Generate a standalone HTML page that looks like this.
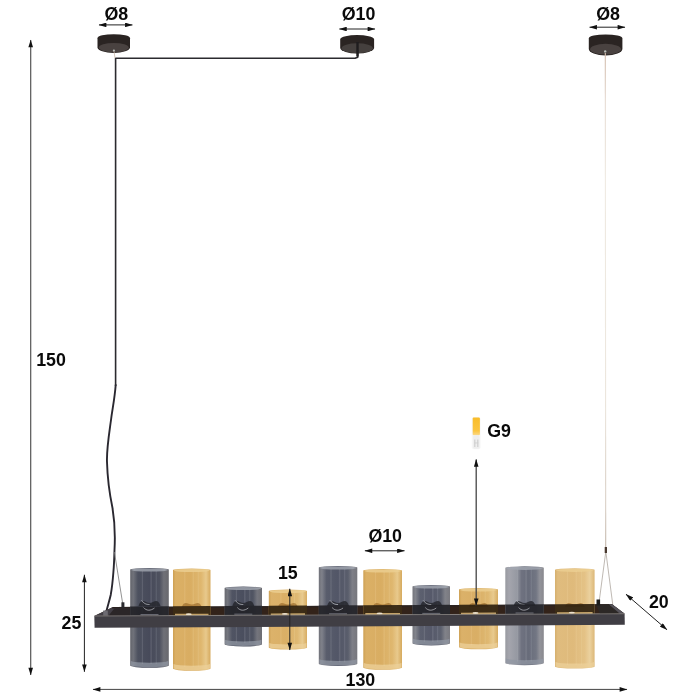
<!DOCTYPE html>
<html><head><meta charset="utf-8"><title>Lamp dimensions</title>
<style>
html,body{margin:0;padding:0;background:#fff;}
svg{display:block;will-change:transform;opacity:0.999;}
text{font-family:"Liberation Sans",Arial,Helvetica,sans-serif;font-weight:700;font-size:17.8px;fill:#0a0a0a;}
</style></head><body>
<svg width="700" height="700" viewBox="0 0 700 700">
<defs>
<linearGradient id="gs" x1="0" x2="1" y1="0" y2="0">
 <stop offset="0" stop-color="#6f7077"/><stop offset="0.08" stop-color="#7d7f88"/><stop offset="0.2" stop-color="#565a6a"/><stop offset="0.5" stop-color="#4f5364"/><stop offset="0.76" stop-color="#575b6a"/><stop offset="0.87" stop-color="#7c7d85"/><stop offset="1" stop-color="#74747a"/>
</linearGradient>
<linearGradient id="ga" x1="0" x2="1" y1="0" y2="0">
 <stop offset="0" stop-color="#cda052"/><stop offset="0.07" stop-color="#dbb066"/><stop offset="0.45" stop-color="#d9ad62"/><stop offset="0.75" stop-color="#dfb76f"/><stop offset="0.88" stop-color="#e8c98c"/><stop offset="1" stop-color="#d6aa5e"/>
</linearGradient>
<linearGradient id="g0" x1="0" x2="1" y1="0" y2="0"><stop offset="0" stop-color="#63646b"/><stop offset="0.08" stop-color="#70727a"/><stop offset="0.2" stop-color="#4d515f"/><stop offset="0.5" stop-color="#474a5a"/><stop offset="0.76" stop-color="#4e515f"/><stop offset="0.87" stop-color="#6f7077"/><stop offset="1" stop-color="#68686d"/></linearGradient>
<linearGradient id="g1" x1="0" x2="1" y1="0" y2="0"><stop offset="0" stop-color="#cda052"/><stop offset="0.07" stop-color="#dbb066"/><stop offset="0.45" stop-color="#d9ad62"/><stop offset="0.75" stop-color="#dfb76f"/><stop offset="0.88" stop-color="#e8c98c"/><stop offset="1" stop-color="#d6aa5e"/></linearGradient>
<linearGradient id="g2" x1="0" x2="1" y1="0" y2="0"><stop offset="0" stop-color="#68696f"/><stop offset="0.08" stop-color="#75777f"/><stop offset="0.2" stop-color="#505463"/><stop offset="0.5" stop-color="#4a4e5e"/><stop offset="0.76" stop-color="#515563"/><stop offset="0.87" stop-color="#74757d"/><stop offset="1" stop-color="#6d6d72"/></linearGradient>
<linearGradient id="g3" x1="0" x2="1" y1="0" y2="0"><stop offset="0" stop-color="#cea257"/><stop offset="0.07" stop-color="#dcb26a"/><stop offset="0.45" stop-color="#daaf66"/><stop offset="0.75" stop-color="#dfb973"/><stop offset="0.88" stop-color="#e8ca8f"/><stop offset="1" stop-color="#d7ac62"/></linearGradient>
<linearGradient id="g4" x1="0" x2="1" y1="0" y2="0"><stop offset="0" stop-color="#717279"/><stop offset="0.08" stop-color="#7f818a"/><stop offset="0.2" stop-color="#595d6c"/><stop offset="0.5" stop-color="#525667"/><stop offset="0.76" stop-color="#5a5e6c"/><stop offset="0.87" stop-color="#7e7f87"/><stop offset="1" stop-color="#76767c"/></linearGradient>
<linearGradient id="g5" x1="0" x2="1" y1="0" y2="0"><stop offset="0" stop-color="#cda052"/><stop offset="0.07" stop-color="#dbb066"/><stop offset="0.45" stop-color="#d9ad62"/><stop offset="0.75" stop-color="#dfb76f"/><stop offset="0.88" stop-color="#e8c98c"/><stop offset="1" stop-color="#d6aa5e"/></linearGradient>
<linearGradient id="g6" x1="0" x2="1" y1="0" y2="0"><stop offset="0" stop-color="#74757c"/><stop offset="0.08" stop-color="#82848c"/><stop offset="0.2" stop-color="#5c606f"/><stop offset="0.5" stop-color="#56596a"/><stop offset="0.76" stop-color="#5d616f"/><stop offset="0.87" stop-color="#818289"/><stop offset="1" stop-color="#79797f"/></linearGradient>
<linearGradient id="g7" x1="0" x2="1" y1="0" y2="0"><stop offset="0" stop-color="#cea155"/><stop offset="0.07" stop-color="#dbb169"/><stop offset="0.45" stop-color="#d9ae65"/><stop offset="0.75" stop-color="#dfb871"/><stop offset="0.88" stop-color="#e8ca8e"/><stop offset="1" stop-color="#d6ab61"/></linearGradient>
<linearGradient id="g8" x1="0" x2="1" y1="0" y2="0"><stop offset="0" stop-color="#989aa0"/><stop offset="0.1" stop-color="#a4a5ad"/><stop offset="0.3" stop-color="#9699a2"/><stop offset="0.42" stop-color="#6f7280"/><stop offset="0.6" stop-color="#686c7a"/><stop offset="0.8" stop-color="#727683"/><stop offset="0.9" stop-color="#92939a"/><stop offset="1" stop-color="#89898e"/></linearGradient>
<linearGradient id="g9" x1="0" x2="1" y1="0" y2="0"><stop offset="0" stop-color="#d5af6d"/><stop offset="0.07" stop-color="#e0bc7e"/><stop offset="0.45" stop-color="#dfba7b"/><stop offset="0.75" stop-color="#e4c286"/><stop offset="0.88" stop-color="#ebd19e"/><stop offset="1" stop-color="#dcb777"/></linearGradient>
<marker id="ah" viewBox="0 0 10 6" refX="9.6" refY="3" markerWidth="8.6" markerHeight="4.6" orient="auto-start-reverse" markerUnits="userSpaceOnUse"><path d="M0,0 L10,3 L0,6 Z" fill="#111"/></marker>
</defs>
<rect width="700" height="700" fill="#fff"/>

<!-- canopies -->
<g>
 <path d="M97.5,38.2 A16.25,4 0 0 1 130,38.2 L130,47.3 A16.25,5.7 0 0 1 97.5,47.3 Z" fill="#2a2422"/>
 <ellipse cx="113.75" cy="47.6" rx="15" ry="4.7" fill="#494240"/>
 <circle cx="113.9" cy="50.6" r="1.1" fill="#b9bdb8"/>

 <path d="M340.2,39 A17,4.2 0 0 1 374.1,39 L374.1,48 A17,6 0 0 1 340.2,48 Z" fill="#2a2422"/>
 <ellipse cx="357.2" cy="48.2" rx="15.6" ry="5" fill="#45403e"/>

 <path d="M588.8,38.4 A16.8,4 0 0 1 622.4,38.4 L622.4,49 A16.8,6.5 0 0 1 588.8,49 Z" fill="#2a2422"/>
 <ellipse cx="605.6" cy="49.2" rx="15.5" ry="5.4" fill="#494240"/>
 <circle cx="605.2" cy="51.4" r="1.2" fill="#b9bdb8"/>
</g>

<!-- cable -->
<path d="M357.7,50 L357.7,57.2 L355,58.3 L115.6,58.3 L115.6,386" fill="none" stroke="#2b2a2e" stroke-width="1.6" stroke-linejoin="round"/>
<path d="M115.7,385 C114.5,400 112.5,408 111,420 C108.5,438 106.5,450 107,462 C107.5,480 110,496 112.5,508 C114.5,520 115.3,535 114.5,550 C114.2,560 114,566 113.4,572 C112.8,580 112,588 110.7,595 C109.6,600 108,605 106.6,610.5" fill="none" stroke="#2a2830" stroke-width="1.9" stroke-linecap="round"/>
<path d="M357.5,42 L357.5,56.5" stroke="#1f1d1f" stroke-width="2.4" fill="none"/>
<path d="M114,51.5 L115,58" stroke="#c9b8aa" stroke-width="0.8" fill="none"/>
<path d="M114.4,552 L122.6,603" stroke="#777" stroke-width="0.8" fill="none"/>

<!-- right wire -->
<linearGradient id="gw" gradientUnits="userSpaceOnUse" x1="0" y1="53" x2="0" y2="547"><stop offset="0" stop-color="#d2bcac"/><stop offset="0.1" stop-color="#e6dbd2"/><stop offset="0.25" stop-color="#efeae2"/><stop offset="0.7" stop-color="#ece6dd"/><stop offset="0.92" stop-color="#d8cec4"/><stop offset="1" stop-color="#c4b8ac"/></linearGradient>
<path d="M605.3,53 L605.7,547" stroke="url(#gw)" stroke-width="1.1" fill="none"/>
<rect x="604.7" y="547" width="2.3" height="6" fill="#4a3a30"/>
<path d="M605.6,553 L599.3,600.5 M606,553 L613.6,611" stroke="#aaa29a" stroke-width="0.75" fill="none"/>

<!-- frame back / top -->
<polygon points="94.3,616 113,607 612,604.3 624.6,613.8" fill="#33231a"/>
<polygon points="94.3,616 113,607 131,606.9 131,615.8" fill="#433f46"/>
<polygon points="113,607 612,604.3 612.5,605.6 112,608.4" fill="#2a2220"/>
<polygon points="114.5,608.2 131,608.1 131,615.7 108.5,615.8" fill="#2b2628"/>
<polygon points="596,604.4 612,604.3 624.6,613.8 600,613.9" fill="#2c2826"/>
<polygon points="608.8,604.3 612,604.3 624.6,613.8 620.2,613.9" fill="#56535a"/>
<rect x="596.5" y="599.5" width="3.6" height="6" fill="#1c1c1c"/>
<rect x="121.4" y="602.3" width="3" height="5.5" fill="#2a2a2e"/>
<rect x="103.2" y="610.5" width="4.6" height="5" fill="#6d6b72"/>

<!-- glasses -->
<path d="M130.2,569.6 A19.30000000000001,1.6 0 0 1 168.8,569.6 L168.8,665.5999999999999 A19.30000000000001,2.2 0 0 1 130.2,665.5999999999999 Z" fill="url(#g0)"/>
<ellipse cx="149.5" cy="570.0" rx="18.30000000000001" ry="1.6" fill="#a3a7b1" opacity="0.8"/>
<path d="M130.7,661.0999999999999 A19.30000000000001,2.2 0 0 0 168.3,661.0999999999999 L168.3,665.5999999999999 A19.30000000000001,2.2 0 0 1 130.7,665.5999999999999 Z" fill="#9097a3" opacity="0.75"/>
<rect x="141.8" y="571.1" width="1.2" height="92.99999999999991" fill="#c4c8d0" opacity="0.16"/>
<rect x="150.3" y="571.1" width="1.6" height="92.99999999999991" fill="#c4c8d0" opacity="0.14"/>
<rect x="155.7" y="571.1" width="1.0" height="92.99999999999991" fill="#c4c8d0" opacity="0.18"/>
<path d="M138.5,606 C141.5,597 145.5,603 149.5,603 C153.5,603 157.5,597 160.5,606 Z" fill="#23242b" opacity="0.8"/>
<path d="M141.5,600.5 C144.5,604 146.5,604.5 149.5,604.5" stroke="#c9ccd2" stroke-width="0.9" fill="none" opacity="0.8"/>
<path d="M173,570.1 A18.75,1.6 0 0 1 210.5,570.1 L210.5,668.5999999999999 A18.75,2.2 0 0 1 173,668.5999999999999 Z" fill="url(#g1)"/>
<ellipse cx="191.75" cy="570.5" rx="17.75" ry="1.6" fill="#ecd092" opacity="0.8"/>
<path d="M173.5,664.0999999999999 A18.75,2.2 0 0 0 210.0,664.0999999999999 L210.0,668.5999999999999 A18.75,2.2 0 0 1 173.5,668.5999999999999 Z" fill="#ecd09a" opacity="0.75"/>
<rect x="184.2" y="571.6" width="1.2" height="95.49999999999991" fill="#f6e2b4" opacity="0.16"/>
<rect x="192.5" y="571.6" width="1.6" height="95.49999999999991" fill="#f6e2b4" opacity="0.14"/>
<rect x="197.8" y="571.6" width="1.0" height="95.49999999999991" fill="#f6e2b4" opacity="0.18"/>
<path d="M181.75,607 C184.75,600 187.75,604.5 191.75,604.5 C195.75,604.5 198.75,600 201.75,607 Z" fill="#8a5a1c" opacity="0.55"/>
<path d="M224.6,588.1 A18.700000000000003,1.6 0 0 1 262,588.1 L262,644.3 A18.700000000000003,2.2 0 0 1 224.6,644.3 Z" fill="url(#g2)"/>
<ellipse cx="243.3" cy="588.5" rx="17.700000000000003" ry="1.6" fill="#a3a7b1" opacity="0.8"/>
<path d="M225.1,639.8 A18.700000000000003,2.2 0 0 0 261.5,639.8 L261.5,644.3 A18.700000000000003,2.2 0 0 1 225.1,644.3 Z" fill="#9097a3" opacity="0.75"/>
<rect x="235.8" y="589.6" width="1.2" height="53.19999999999995" fill="#c4c8d0" opacity="0.16"/>
<rect x="244.0" y="589.6" width="1.6" height="53.19999999999995" fill="#c4c8d0" opacity="0.14"/>
<rect x="249.3" y="589.6" width="1.0" height="53.19999999999995" fill="#c4c8d0" opacity="0.18"/>
<path d="M232.3,606 C235.3,597 239.3,603 243.3,603 C247.3,603 251.3,597 254.3,606 Z" fill="#23242b" opacity="0.8"/>
<path d="M235.3,600.5 C238.3,604 240.3,604.5 243.3,604.5" stroke="#c9ccd2" stroke-width="0.9" fill="none" opacity="0.8"/>
<path d="M268.8,591.1 A19.099999999999994,1.6 0 0 1 307,591.1 L307,647.4 A19.099999999999994,2.2 0 0 1 268.8,647.4 Z" fill="url(#g3)"/>
<ellipse cx="287.9" cy="591.5" rx="18.099999999999994" ry="1.6" fill="#ecd092" opacity="0.8"/>
<path d="M269.3,642.9 A19.099999999999994,2.2 0 0 0 306.5,642.9 L306.5,647.4 A19.099999999999994,2.2 0 0 1 269.3,647.4 Z" fill="#ecd09a" opacity="0.75"/>
<rect x="280.3" y="592.6" width="1.2" height="53.299999999999976" fill="#f6e2b4" opacity="0.16"/>
<rect x="288.7" y="592.6" width="1.6" height="53.299999999999976" fill="#f6e2b4" opacity="0.14"/>
<rect x="294.0" y="592.6" width="1.0" height="53.299999999999976" fill="#f6e2b4" opacity="0.18"/>
<path d="M277.9,607 C280.9,600 283.9,604.5 287.9,604.5 C291.9,604.5 294.9,600 297.9,607 Z" fill="#8a5a1c" opacity="0.55"/>
<path d="M318.8,567.6 A19.25,1.6 0 0 1 357.3,567.6 L357.3,663.8 A19.25,2.2 0 0 1 318.8,663.8 Z" fill="url(#g4)"/>
<ellipse cx="338.05" cy="568.0" rx="18.25" ry="1.6" fill="#a3a7b1" opacity="0.8"/>
<path d="M319.3,659.3 A19.25,2.2 0 0 0 356.8,659.3 L356.8,663.8 A19.25,2.2 0 0 1 319.3,663.8 Z" fill="#9097a3" opacity="0.75"/>
<rect x="330.4" y="569.1" width="1.2" height="93.19999999999996" fill="#c4c8d0" opacity="0.16"/>
<rect x="338.8" y="569.1" width="1.6" height="93.19999999999996" fill="#c4c8d0" opacity="0.14"/>
<rect x="344.2" y="569.1" width="1.0" height="93.19999999999996" fill="#c4c8d0" opacity="0.18"/>
<path d="M327.05,606 C330.05,597 334.05,603 338.05,603 C342.05,603 346.05,597 349.05,606 Z" fill="#23242b" opacity="0.8"/>
<path d="M330.05,600.5 C333.05,604 335.05,604.5 338.05,604.5" stroke="#c9ccd2" stroke-width="0.9" fill="none" opacity="0.8"/>
<path d="M363.3,570.6 A19.349999999999994,1.6 0 0 1 402,570.6 L402,667.5999999999999 A19.349999999999994,2.2 0 0 1 363.3,667.5999999999999 Z" fill="url(#g5)"/>
<ellipse cx="382.65" cy="571.0" rx="18.349999999999994" ry="1.6" fill="#ecd092" opacity="0.8"/>
<path d="M363.8,663.0999999999999 A19.349999999999994,2.2 0 0 0 401.5,663.0999999999999 L401.5,667.5999999999999 A19.349999999999994,2.2 0 0 1 363.8,667.5999999999999 Z" fill="#ecd09a" opacity="0.75"/>
<rect x="374.9" y="572.1" width="1.2" height="93.99999999999991" fill="#f6e2b4" opacity="0.16"/>
<rect x="383.4" y="572.1" width="1.6" height="93.99999999999991" fill="#f6e2b4" opacity="0.14"/>
<rect x="388.8" y="572.1" width="1.0" height="93.99999999999991" fill="#f6e2b4" opacity="0.18"/>
<path d="M372.65,607 C375.65,600 378.65,604.5 382.65,604.5 C386.65,604.5 389.65,600 392.65,607 Z" fill="#8a5a1c" opacity="0.55"/>
<path d="M412.5,586.6 A18.75,1.6 0 0 1 450,586.6 L450,643.3 A18.75,2.2 0 0 1 412.5,643.3 Z" fill="url(#g6)"/>
<ellipse cx="431.25" cy="587.0" rx="17.75" ry="1.6" fill="#a3a7b1" opacity="0.8"/>
<path d="M413.0,638.8 A18.75,2.2 0 0 0 449.5,638.8 L449.5,643.3 A18.75,2.2 0 0 1 413.0,643.3 Z" fill="#9097a3" opacity="0.75"/>
<rect x="423.8" y="588.1" width="1.2" height="53.69999999999995" fill="#c4c8d0" opacity="0.16"/>
<rect x="432.0" y="588.1" width="1.6" height="53.69999999999995" fill="#c4c8d0" opacity="0.14"/>
<rect x="437.2" y="588.1" width="1.0" height="53.69999999999995" fill="#c4c8d0" opacity="0.18"/>
<path d="M420.25,606 C423.25,597 427.25,603 431.25,603 C435.25,603 439.25,597 442.25,606 Z" fill="#23242b" opacity="0.8"/>
<path d="M423.25,600.5 C426.25,604 428.25,604.5 431.25,604.5" stroke="#c9ccd2" stroke-width="0.9" fill="none" opacity="0.8"/>
<path d="M459,589.6 A19.5,1.6 0 0 1 498,589.6 L498,647.0999999999999 A19.5,2.2 0 0 1 459,647.0999999999999 Z" fill="url(#g7)"/>
<ellipse cx="478.5" cy="590.0" rx="18.5" ry="1.6" fill="#ecd092" opacity="0.8"/>
<path d="M459.5,642.5999999999999 A19.5,2.2 0 0 0 497.5,642.5999999999999 L497.5,647.0999999999999 A19.5,2.2 0 0 1 459.5,647.0999999999999 Z" fill="#ecd09a" opacity="0.75"/>
<rect x="470.7" y="591.1" width="1.2" height="54.49999999999991" fill="#f6e2b4" opacity="0.16"/>
<rect x="479.3" y="591.1" width="1.6" height="54.49999999999991" fill="#f6e2b4" opacity="0.14"/>
<rect x="484.7" y="591.1" width="1.0" height="54.49999999999991" fill="#f6e2b4" opacity="0.18"/>
<path d="M468.5,607 C471.5,600 474.5,604.5 478.5,604.5 C482.5,604.5 485.5,600 488.5,607 Z" fill="#8a5a1c" opacity="0.55"/>
<path d="M505.3,567.9 A19.24999999999997,1.6 0 0 1 543.8,567.9 L543.8,663.0 A19.24999999999997,2.2 0 0 1 505.3,663.0 Z" fill="url(#g8)"/>
<ellipse cx="524.55" cy="568.3" rx="18.24999999999997" ry="1.6" fill="#a3a7b1" opacity="0.8"/>
<path d="M505.8,658.5 A19.24999999999997,2.2 0 0 0 543.3,658.5 L543.3,663.0 A19.24999999999997,2.2 0 0 1 505.8,663.0 Z" fill="#9097a3" opacity="0.75"/>
<rect x="516.9" y="569.4" width="1.2" height="92.10000000000005" fill="#c4c8d0" opacity="0.16"/>
<rect x="525.3" y="569.4" width="1.6" height="92.10000000000005" fill="#c4c8d0" opacity="0.14"/>
<rect x="530.7" y="569.4" width="1.0" height="92.10000000000005" fill="#c4c8d0" opacity="0.18"/>
<path d="M513.55,606 C516.55,597 520.55,603 524.55,603 C528.55,603 532.55,597 535.55,606 Z" fill="#23242b" opacity="0.8"/>
<path d="M516.55,600.5 C519.55,604 521.55,604.5 524.55,604.5" stroke="#c9ccd2" stroke-width="0.9" fill="none" opacity="0.8"/>
<path d="M555,569.9 A19.80000000000001,1.6 0 0 1 594.6,569.9 L594.6,666.4 A19.80000000000001,2.2 0 0 1 555,666.4 Z" fill="url(#g9)"/>
<ellipse cx="574.8" cy="570.3" rx="18.80000000000001" ry="1.6" fill="#ecd092" opacity="0.8"/>
<path d="M555.5,661.9 A19.80000000000001,2.2 0 0 0 594.1,661.9 L594.1,666.4 A19.80000000000001,2.2 0 0 1 555.5,666.4 Z" fill="#ecd09a" opacity="0.75"/>
<rect x="566.9" y="571.4" width="1.2" height="93.50000000000003" fill="#f6e2b4" opacity="0.16"/>
<rect x="575.6" y="571.4" width="1.6" height="93.50000000000003" fill="#f6e2b4" opacity="0.14"/>
<rect x="581.1" y="571.4" width="1.0" height="93.50000000000003" fill="#f6e2b4" opacity="0.18"/>
<path d="M564.8,607 C567.8,600 570.8,604.5 574.8,604.5 C578.8,604.5 581.8,600 584.8,607 Z" fill="#8a5a1c" opacity="0.55"/>

<!-- frame seen through glasses -->
<polygon points="130.2,606.51 168.8,606.30 168.8,615.59 130.2,615.75" fill="#222228" opacity="0.93"/>
<path d="M140.5,614.55 L158.5,614.55" stroke="#9a9ca6" stroke-width="1" opacity="0.6"/>
<path d="M143.5,607.5 C146.5,611 150.5,611 154.5,608" stroke="#d0d2d8" stroke-width="0.9" fill="none" opacity="0.7"/>
<polygon points="173,606.28 210.5,606.07 210.5,615.42 173,615.57" fill="#2f210f" opacity="0.93"/>
<polygon points="175,613.87 208.5,613.72 208.5,615.62 175,615.77" fill="#dcb878" opacity="0.85"/>
<ellipse cx="188.75" cy="614.27" rx="3" ry="1" fill="#f4ead8" opacity="0.9"/>
<polygon points="224.6,606.00 262,605.79 262,615.20 224.6,615.36" fill="#222228" opacity="0.93"/>
<path d="M234.3,614.16 L252.3,614.16" stroke="#9a9ca6" stroke-width="1" opacity="0.6"/>
<path d="M237.3,607.5 C240.3,611 244.3,611 248.3,608" stroke="#d0d2d8" stroke-width="0.9" fill="none" opacity="0.7"/>
<polygon points="268.8,605.76 307,605.55 307,615.02 268.8,615.18" fill="#2f210f" opacity="0.93"/>
<polygon points="270.8,613.48 305,613.32 305,615.22 270.8,615.38" fill="#dcb878" opacity="0.85"/>
<ellipse cx="284.9" cy="613.88" rx="3" ry="1" fill="#f4ead8" opacity="0.9"/>
<polygon points="318.8,605.49 357.3,605.28 357.3,614.81 318.8,614.97" fill="#222228" opacity="0.93"/>
<path d="M329.05,613.77 L347.05,613.77" stroke="#9a9ca6" stroke-width="1" opacity="0.6"/>
<path d="M332.05,607.5 C335.05,611 339.05,611 343.05,608" stroke="#d0d2d8" stroke-width="0.9" fill="none" opacity="0.7"/>
<polygon points="363.3,605.25 402,605.04 402,614.62 363.3,614.78" fill="#2f210f" opacity="0.93"/>
<polygon points="365.3,613.08 400,612.92 400,614.82 365.3,614.98" fill="#dcb878" opacity="0.85"/>
<ellipse cx="379.65" cy="613.48" rx="3" ry="1" fill="#f4ead8" opacity="0.9"/>
<polygon points="412.5,604.98 450,604.78 450,614.42 412.5,614.58" fill="#222228" opacity="0.93"/>
<path d="M422.25,613.38 L440.25,613.38" stroke="#9a9ca6" stroke-width="1" opacity="0.6"/>
<path d="M425.25,607.5 C428.25,611 432.25,611 436.25,608" stroke="#d0d2d8" stroke-width="0.9" fill="none" opacity="0.7"/>
<polygon points="459,604.73 498,604.52 498,614.23 459,614.39" fill="#2f210f" opacity="0.93"/>
<polygon points="461,612.69 496,612.53 496,614.43 461,614.59" fill="#dcb878" opacity="0.85"/>
<ellipse cx="475.5" cy="613.09" rx="3" ry="1" fill="#f4ead8" opacity="0.9"/>
<polygon points="505.3,604.48 543.8,604.27 543.8,614.03 505.3,614.19" fill="#222228" opacity="0.93"/>
<path d="M515.55,612.99 L533.55,612.99" stroke="#9a9ca6" stroke-width="1" opacity="0.6"/>
<path d="M518.55,607.5 C521.55,611 525.55,611 529.55,608" stroke="#d0d2d8" stroke-width="0.9" fill="none" opacity="0.7"/>
<polygon points="555,604.21 594.6,603.99 594.6,613.82 555,613.99" fill="#2f210f" opacity="0.93"/>
<polygon points="557,612.29 592.6,612.12 592.6,614.02 557,614.19" fill="#dcb878" opacity="0.85"/>
<ellipse cx="571.8" cy="612.69" rx="3" ry="1" fill="#f4ead8" opacity="0.9"/>

<!-- frame front -->
<polygon points="94.3,615.9 624.6,613.7 624.8,624.8 94.6,627.8" fill="#403e44"/>
<polygon points="94.3,615.5 624.6,613.3 624.6,614.3 94.3,616.5" fill="#8f8a86" opacity="0.7"/>

<!-- dimension arrows -->
<g stroke="#222" stroke-width="1" fill="none">
 <line x1="99" y1="24.9" x2="132.4" y2="24.9" marker-start="url(#ah)" marker-end="url(#ah)"/>
 <line x1="339.4" y1="29" x2="375" y2="29" marker-start="url(#ah)" marker-end="url(#ah)"/>
 <line x1="589.6" y1="27.2" x2="625" y2="27.2" marker-start="url(#ah)" marker-end="url(#ah)"/>
 <line x1="30.7" y1="675" x2="30.7" y2="40" marker-start="url(#ah)" marker-end="url(#ah)" stroke="#555" stroke-width="1.2"/>
 <line x1="84.4" y1="574.8" x2="84.4" y2="671.8" marker-start="url(#ah)" marker-end="url(#ah)"/>
 <line x1="93" y1="689.4" x2="627" y2="689.4" marker-start="url(#ah)" marker-end="url(#ah)" stroke="#444"/>
 <line x1="289.8" y1="588.8" x2="289.8" y2="650" marker-start="url(#ah)" marker-end="url(#ah)"/>
 <line x1="364.9" y1="550.8" x2="404.5" y2="550.8" marker-start="url(#ah)" marker-end="url(#ah)"/>
 <line x1="476.2" y1="459.4" x2="476.2" y2="605.8" marker-start="url(#ah)" marker-end="url(#ah)" stroke="#444" stroke-width="1.3"/>
 <line x1="626" y1="594.3" x2="667" y2="629.7" marker-start="url(#ah)" marker-end="url(#ah)"/>
</g>

<!-- G9 bulb -->
<defs><linearGradient id="gy" x1="0" x2="0" y1="0" y2="1"><stop offset="0" stop-color="#f9bd2a"/><stop offset="0.75" stop-color="#fbc540"/><stop offset="1" stop-color="#fbd987"/></linearGradient></defs>
<rect x="471.8" y="417.2" width="8.8" height="32" rx="2" fill="#f6f6f6"/>
<rect x="472.7" y="417.6" width="7.2" height="17.6" rx="1" fill="url(#gy)"/>
<rect x="473.2" y="435.2" width="6.2" height="13.6" rx="1.5" fill="#eeeeee"/>
<rect x="474.4" y="439.5" width="0.9" height="7.5" fill="#c6c6c6"/>
<rect x="477.4" y="439.5" width="0.9" height="7.5" fill="#c6c6c6"/>
<rect x="474.4" y="442.5" width="3.9" height="0.9" fill="#cfcfcf"/>

<!-- labels -->
<text x="116.3" y="19.6" text-anchor="middle">Ø8</text>
<text x="358.6" y="19.8" text-anchor="middle">Ø10</text>
<text x="608" y="19.7" text-anchor="middle">Ø8</text>
<text x="51" y="365.8" text-anchor="middle">150</text>
<text x="71.4" y="628.7" text-anchor="middle">25</text>
<text x="287.8" y="578.5" text-anchor="middle">15</text>
<text x="385.2" y="541.8" text-anchor="middle">Ø10</text>
<text x="499" y="436.8" text-anchor="middle">G9</text>
<text x="658.8" y="608" text-anchor="middle">20</text>
<text x="360.4" y="685.5" text-anchor="middle">130</text>
</svg>
</body></html>
